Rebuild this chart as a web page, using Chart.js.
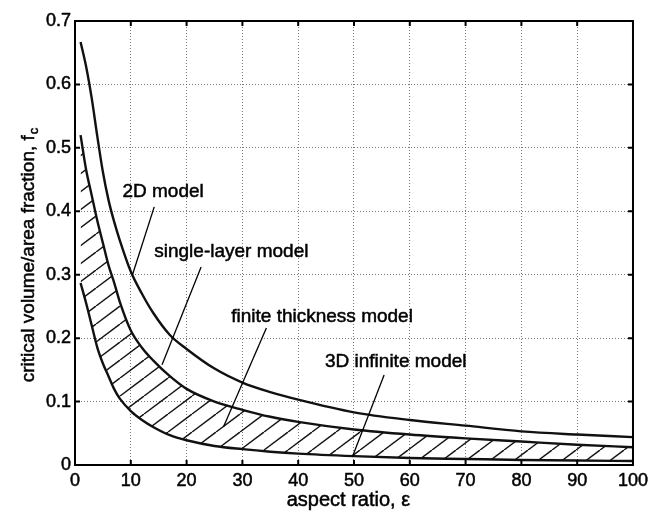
<!DOCTYPE html>
<html>
<head>
<meta charset="utf-8">
<script src="https://cdn.jsdelivr.net/npm/chart.js@4.4.1/dist/chart.umd.min.js"></script>
<style>
  html, body { margin: 0; padding: 0; background: #fff; }
  #wrap { width: 653px; height: 519px; position: relative; }
</style>
</head>
<body>
<div id="wrap"><canvas id="chart"></canvas></div>
<script>
// values
const aspectRatio = [1, 2, 3, 4, 5, 6, 7, 8, 10, 12, 14, 17, 20, 25, 30, 35, 40, 50, 60, 70, 80, 90, 100];
const model2D = [0.667, 0.628, 0.578, 0.518, 0.462, 0.418, 0.384, 0.355, 0.305, 0.27, 0.24, 0.205, 0.183, 0.152, 0.13, 0.115, 0.103, 0.083, 0.071, 0.062, 0.053, 0.048, 0.044];
const singleLayer = [0.52, 0.465, 0.425, 0.385, 0.35, 0.315, 0.288, 0.258, 0.212, 0.185, 0.165, 0.14, 0.12, 0.1, 0.087, 0.076, 0.068, 0.056, 0.048, 0.042, 0.037, 0.032, 0.028];
const infinite3D = [0.287, 0.255, 0.22, 0.185, 0.16, 0.14, 0.12, 0.105, 0.085, 0.071, 0.06, 0.047, 0.039, 0.03, 0.025, 0.021, 0.018, 0.014, 0.011, 0.0095, 0.008, 0.007, 0.0063];

const xTicks = [0, 10, 20, 30, 40, 50, 60, 70, 80, 90, 100];
const yTicks = [0, 0.1, 0.2, 0.3, 0.4, 0.5, 0.6, 0.7];
const yTickLabels = ["0", "0.1", "0.2", "0.3", "0.4", "0.5", "0.6", "0.7"];

// labels with leader lines, in data units
const notes = [
  { text: "2D model", at: [8.5, 0.43], from: [14.2, 0.407], to: [10.3, 0.30] },
  { text: "single-layer model", at: [14.2, 0.336], from: [22.6, 0.312], to: [15.6, 0.158] },
  { text: "finite thickness model", at: [28.0, 0.233], from: [34.3, 0.216], to: [26.6, 0.06] },
  { text: "3D infinite model", at: [44.8, 0.162], from: [55.4, 0.142], to: [49.7, 0.0126] },
];

const FONT = "'Liberation Sans', Arial, Helvetica, sans-serif";

function hatchPattern() {
  const w = 24, h = 18;
  const c = document.createElement("canvas");
  c.width = w;
  c.height = h;
  const g = c.getContext("2d");
  g.strokeStyle = "#111";
  g.lineWidth = 1.4;
  for (const k of [-1, 0, 1]) {
    g.beginPath();
    g.moveTo(k * w, h);
    g.lineTo(k * w + w, 0);
    g.stroke();
  }
  return g.createPattern(c, "repeat");
}

// heavier text like the scanned figure
function boldText(ctx, s, px, py) {
  ctx.fillText(s, px, py);
  ctx.strokeText(s, px, py);
}

const framePlugin = {
  id: "frame",
  afterDatasetsDraw(chart) {
    const { ctx, chartArea: a, scales: { x, y } } = chart;
    ctx.save();
    ctx.strokeStyle = "#000";
    ctx.lineWidth = 2;
    ctx.strokeRect(a.left, a.top, a.right - a.left, a.bottom - a.top);

    // inward ticks on all four sides
    ctx.beginPath();
    xTicks.forEach((v) => {
      const px = x.getPixelForValue(v);
      ctx.moveTo(px, a.bottom); ctx.lineTo(px, a.bottom - 5);
      ctx.moveTo(px, a.top); ctx.lineTo(px, a.top + 5);
    });
    yTicks.forEach((v) => {
      const py = y.getPixelForValue(v);
      ctx.moveTo(a.left, py); ctx.lineTo(a.left + 5, py);
      ctx.moveTo(a.right, py); ctx.lineTo(a.right - 5, py);
    });
    ctx.stroke();

    // leader lines
    ctx.lineWidth = 1.3;
    notes.forEach((n) => {
      ctx.beginPath();
      ctx.moveTo(x.getPixelForValue(n.from[0]), y.getPixelForValue(n.from[1]));
      ctx.lineTo(x.getPixelForValue(n.to[0]), y.getPixelForValue(n.to[1]));
      ctx.stroke();
    });

    // annotation labels
    ctx.fillStyle = "#000";
    ctx.lineWidth = 0.5;
    ctx.font = "19px " + FONT;
    ctx.textAlign = "left";
    ctx.textBaseline = "middle";
    notes.forEach((n) => {
      boldText(ctx, n.text, x.getPixelForValue(n.at[0]), y.getPixelForValue(n.at[1]));
    });

    // axis titles
    ctx.font = "20px " + FONT;
    ctx.textAlign = "center";
    ctx.textBaseline = "alphabetic";
    boldText(ctx, "aspect ratio, \u03b5", x.getPixelForValue(49), 506);

    const main = "critical volume/area fraction, f";
    ctx.font = "19px " + FONT;
    const wMain = ctx.measureText(main).width;
    ctx.font = "13px " + FONT;
    const wSub = ctx.measureText("c").width;
    ctx.translate(34, 255);
    ctx.rotate(-Math.PI / 2);
    const start = -(wMain + wSub + 1) / 2;
    ctx.textAlign = "left";
    ctx.font = "19px " + FONT;
    boldText(ctx, main, start, 0);
    ctx.font = "13px " + FONT;
    boldText(ctx, "c", start + wMain + 1, 4);
    ctx.restore();
  },
};

const curve = (label, data, extra) => Object.assign({
  label,
  data: aspectRatio.map((e, i) => ({ x: e, y: data[i] })),
  borderColor: "#111",
  borderWidth: 2.4,
  pointRadius: 0,
  cubicInterpolationMode: "monotone",
  fill: false,
}, extra);

const tickFont = { family: FONT, size: 18 };

new Chart(document.getElementById("chart"), {
  type: "line",
  data: {
    datasets: [
      curve("2D model", model2D),
      curve("single-layer model", singleLayer, { fill: "+1", backgroundColor: hatchPattern() }),
      curve("3D infinite model", infinite3D),
    ],
  },
  options: {
    responsive: true,
    maintainAspectRatio: false,
    animation: false,
    layout: { padding: { top: 21, right: 15, left: 0, bottom: 0 } },
    plugins: { legend: { display: false }, tooltip: { enabled: false } },
    scales: {
      x: {
        type: "linear",
        min: 0,
        max: 100,
        afterFit: (s) => { s.height = 54; },
        afterBuildTicks: (s) => { s.ticks = xTicks.map((v) => ({ value: v })); },
        grid: { color: "#555", lineWidth: 0.8, drawTicks: false },
        border: { display: false, dash: [1, 2] },
        ticks: { color: "#000", padding: 5, font: tickFont, textStrokeColor: "#000", textStrokeWidth: 0.5 },
      },
      y: {
        min: 0,
        max: 0.7,
        afterFit: (s) => { s.width = 75; },
        afterBuildTicks: (s) => { s.ticks = yTicks.map((v) => ({ value: v })); },
        grid: { color: "#555", lineWidth: 0.8, drawTicks: false },
        border: { display: false, dash: [1, 2] },
        ticks: {
          color: "#000",
          padding: 4,
          font: tickFont,
          textStrokeColor: "#000",
          textStrokeWidth: 0.5,
          callback: (v) => yTickLabels[yTicks.findIndex((t) => Math.abs(t - v) < 1e-9)],
        },
      },
    },
  },
  plugins: [framePlugin],
});
</script>
</body>
</html>
